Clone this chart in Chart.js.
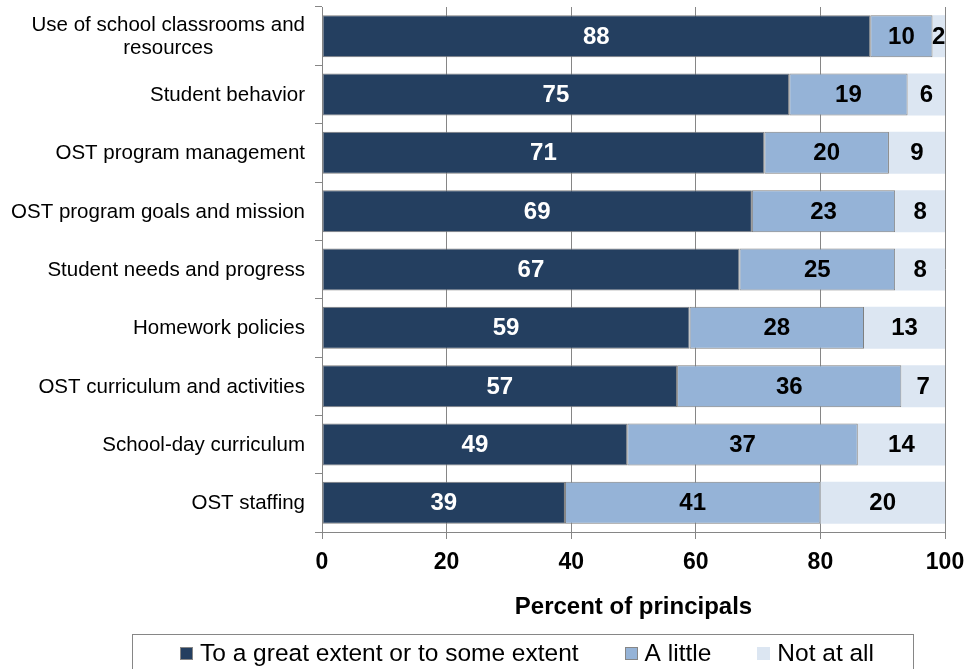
<!DOCTYPE html>
<html>
<head>
<meta charset="utf-8">
<style>
  html, body { margin: 0; padding: 0; background: #ffffff; overflow: hidden; }
  #wrap { width: 967px; height: 669px; position: relative; }
</style>
<script src="https://cdn.jsdelivr.net/npm/chart.js@4.4.1/dist/chart.umd.min.js"></script>
</head>
<body>
<div id="wrap"><canvas id="chart" width="967" height="669"></canvas></div>
<script>
// Areas of coordination between school and OST program (percent of principals)
const categories = [
  ["Use of school classrooms and", "resources"],
  "Student behavior",
  "OST program management",
  "OST program goals and mission",
  "Student needs and progress",
  "Homework policies",
  "OST curriculum and activities",
  "School-day curriculum",
  "OST staffing"
];
const greatOrSomeExtent = [88, 75, 71, 69, 67, 59, 57, 49, 39];
const aLittle           = [10, 19, 20, 23, 25, 28, 36, 37, 41];
const notAtAll          = [2, 6, 9, 8, 8, 13, 7, 14, 20];
const seriesNames = ["To a great extent or to some extent", "A little", "Not at all"];
const axisTitle = "Percent of principals";

const FONT = '"Liberation Sans", Arial, Helvetica, sans-serif';
const GRID = '#868686';
const COLORS = ['#243F60', '#95B3D7', '#DCE6F2'];
const LABEL_COLORS = ['#ffffff', '#000000', '#000000'];

// Numbers centred inside each bar segment
const segmentLabels = {
  id: 'segmentLabels',
  afterDatasetsDraw(chart) {
    const ctx = chart.ctx;
    ctx.save();
    ctx.font = 'bold 24px ' + FONT;
    ctx.textAlign = 'center';
    ctx.textBaseline = 'middle';
    chart.data.datasets.forEach((ds, i) => {
      const meta = chart.getDatasetMeta(i);
      meta.data.forEach((bar, j) => {
        const v = ds.data[j];
        ctx.fillStyle = LABEL_COLORS[i];
        ctx.fillText(String(v), (bar.x + bar.base) / 2, bar.y + 1);
      });
    });
    ctx.restore();
  }
};

// Category names: right aligned block, multi-line names centred within their block
const categoryLabels = {
  id: 'categoryLabels',
  afterDraw(chart) {
    const ctx = chart.ctx;
    const yScale = chart.scales.y;
    const right = yScale.right - 7 - 10;
    const lineH = 23;
    ctx.save();
    ctx.font = '20.5px ' + FONT;
    ctx.fillStyle = '#000000';
    ctx.textBaseline = 'middle';
    categories.forEach((label, i) => {
      const lines = Array.isArray(label) ? label : [label];
      const y = yScale.getPixelForValue(i);
      const widest = Math.max(...lines.map(l => ctx.measureText(l).width));
      const cx = right - widest / 2;
      ctx.textAlign = 'center';
      lines.forEach((line, k) => {
        const ly = y + (k - (lines.length - 1) / 2) * lineH + 1;
        ctx.fillText(line, cx, ly);
      });
    });
    ctx.restore();
  }
};

// Boxed legend under the axis title
const boxedLegend = {
  id: 'boxedLegend',
  afterDraw(chart) {
    const ctx = chart.ctx;
    const box = { left: 132.5, right: 913.5, top: 634.5, bottom: 690 };
    const cy = 653;
    const marker = 13, gap = 7, spacing = 46;
    ctx.save();
    ctx.strokeStyle = GRID;
    ctx.lineWidth = 1;
    ctx.strokeRect(box.left, box.top, box.right - box.left, box.bottom - box.top);
    ctx.font = '24.5px ' + FONT;
    ctx.textBaseline = 'middle';
    ctx.textAlign = 'left';
    const widths = seriesNames.map(n => ctx.measureText(n).width);
    const total = widths.reduce((a, w) => a + marker + gap + w, 0) + spacing * (seriesNames.length - 1);
    let x = (box.left + box.right) / 2 - total / 2 + 4;
    seriesNames.forEach((name, i) => {
      ctx.fillStyle = COLORS[i];
      ctx.fillRect(Math.round(x), Math.round(cy - marker / 2), marker, marker);
      if (i < 2) {
        ctx.strokeStyle = GRID;
        ctx.strokeRect(Math.round(x) + 0.5, Math.round(cy - marker / 2) + 0.5, marker - 1, marker - 1);
      }
      ctx.fillStyle = '#000000';
      ctx.fillText(name, x + marker + gap, cy + 1);
      x += marker + gap + widths[i] + spacing;
    });
    ctx.restore();
  }
};

const dsCommon = {
  barPercentage: 0.72,
  categoryPercentage: 1.0,
  borderSkipped: false
};

new Chart(document.getElementById('chart'), {
  type: 'bar',
  data: {
    labels: categories,
    datasets: [
      Object.assign({ label: seriesNames[0], data: greatOrSomeExtent, backgroundColor: COLORS[0], borderColor: '#7f7f7f', borderWidth: 1 }, dsCommon),
      Object.assign({ label: seriesNames[1], data: aLittle, backgroundColor: COLORS[1], borderColor: '#7f7f7f', borderWidth: 1 }, dsCommon),
      Object.assign({ label: seriesNames[2], data: notAtAll, backgroundColor: COLORS[2], borderWidth: 0 }, dsCommon)
    ]
  },
  options: {
    indexAxis: 'y',
    responsive: false,
    animation: false,
    devicePixelRatio: 1,
    layout: { padding: { top: 7, right: 22, bottom: 0, left: 0 } },
    plugins: {
      legend: { display: false },
      tooltip: { enabled: false },
      title: { display: false }
    },
    scales: {
      x: {
        stacked: true,
        min: 0,
        max: 100,
        ticks: {
          stepSize: 20,
          color: '#000000',
          font: { family: FONT, size: 23, weight: 'bold' },
          padding: 10,
          maxRotation: 0
        },
        grid: { color: GRID, lineWidth: 1, drawTicks: true, tickLength: 7 },
        border: { color: GRID, width: 1 },
        title: {
          display: true,
          text: axisTitle,
          color: '#000000',
          font: { family: FONT, size: 24, weight: 'bold', lineHeight: 1.2 },
          padding: { top: 0, bottom: 47 }
        },
        afterFit(scale) {
          scale.height = 137;
          scale.paddingLeft = 0;
          scale.paddingRight = 0;
        }
      },
      y: {
        stacked: true,
        ticks: { display: false },
        grid: { drawOnChartArea: false, drawTicks: true, tickLength: 7, color: GRID, offset: true },
        border: { color: GRID, width: 1 },
        afterFit(scale) { scale.width = 322; }
      }
    }
  },
  plugins: [segmentLabels, categoryLabels, boxedLegend]
});
</script>
</body>
</html>
